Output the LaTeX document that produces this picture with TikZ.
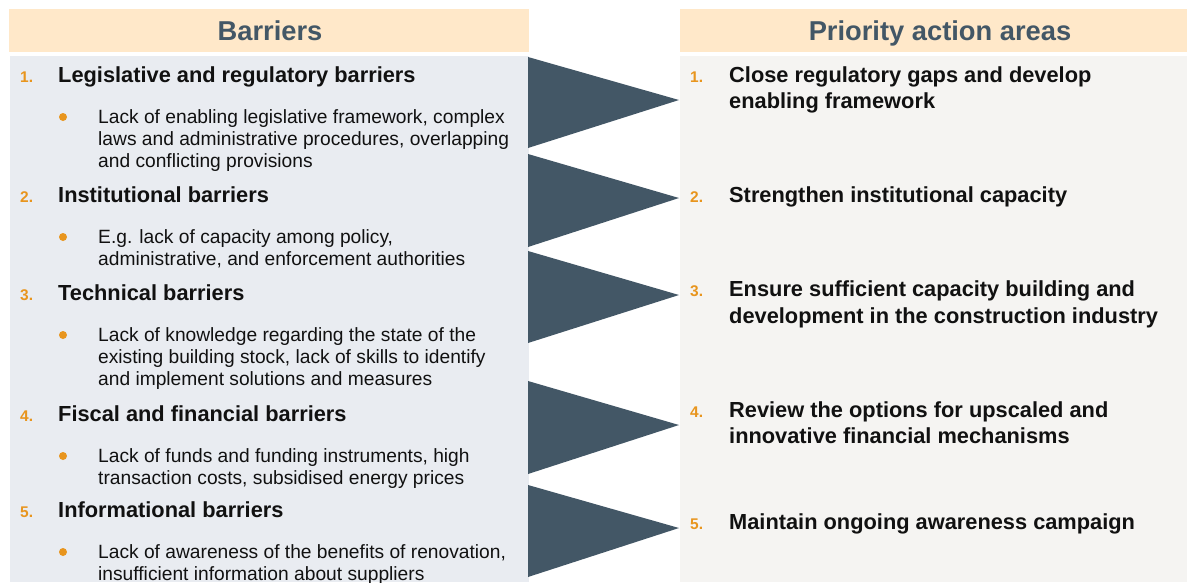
\documentclass[tikz,border=0pt]{standalone}
\usepackage{fontspec}
\setmainfont{Liberation Sans}
\definecolor{hdrfill}{RGB}{255,232,201}
\definecolor{lbody}{RGB}{233,236,241}
\definecolor{rbody}{RGB}{245,244,242}
\definecolor{slate}{RGB}{67,87,102}
\definecolor{orng}{RGB}{232,149,30}
\definecolor{txt}{RGB}{17,17,17}
\begin{document}
\begin{tikzpicture}[x=1pt,y=-1pt,
  hd/.style={font=\fontsize{21.8}{26}\selectfont\bfseries, text=txt, inner sep=0pt, anchor=base west},
  bt/.style={font=\fontsize{19.2}{22}\selectfont, text=txt, inner sep=0pt, anchor=base west},
  num/.style={font=\fontsize{15.5}{18}\selectfont\bfseries, text=orng, inner sep=0pt, anchor=base west},
  ttl/.style={font=\fontsize{27.3}{32}\selectfont\bfseries, text=slate, inner sep=0pt, anchor=base},
  tri/.style={fill=slate, draw=none},
  dot/.style={circle, fill=orng, inner sep=0pt, minimum size=8pt}]
\useasboundingbox (0,0) rectangle (1187,582);
\fill[white] (0,0) rectangle (1187,582);
% panels
\fill[hdrfill] (9,9) rectangle (529,52);
\fill[hdrfill] (680,9) rectangle (1187,52);
\fill[lbody] (10,56) rectangle (529,582);
\fill[rbody] (680,56) rectangle (1187,582);
\node[ttl] (tl) at (270,40) {Barriers};
\node[ttl] (tr) at (940,40) {Priority action areas};
% triangles
\fill[tri] (528,57) -- (679,100) -- (528,148) -- cycle;
\fill[tri] (528,154) -- (679,198) -- (528,247) -- cycle;
\fill[tri] (528,251) -- (679,295) -- (528,343) -- cycle;
\fill[tri] (528,381) -- (679,425) -- (528,474) -- cycle;
\fill[tri] (528,485) -- (679,528) -- (528,577) -- cycle;
% left column
\node[num] (ln1) at (20,82) {1.};
\node[hd] (lh1) at (58,82) {Legislative and regulatory barriers};
\node[dot] (ld1) at (63,117) {};
\node[bt] (lb1a) at (98,123) {Lack of enabling legislative framework, complex};
\node[bt] (lb1b) at (98,145) {laws and administrative procedures, overlapping};
\node[bt] (lb1c) at (98,167) {and conflicting provisions};
\node[num] (ln2) at (20,202) {2.};
\node[hd] (lh2) at (58,202) {Institutional barriers};
\node[dot] (ld2) at (63,237) {};
\node[bt] (lb2a) at (98,243) {E.g. lack of capacity among policy,};
\node[bt] (lb2b) at (98,265) {administrative, and enforcement authorities};
\node[num] (ln3) at (20,300) {3.};
\node[hd] (lh3) at (58,300) {Technical barriers};
\node[dot] (ld3) at (63,335) {};
\node[bt] (lb3a) at (98,341) {Lack of knowledge regarding the state of the};
\node[bt] (lb3b) at (98,363) {existing building stock, lack of skills to identify};
\node[bt] (lb3c) at (98,385) {and implement solutions and measures};
\node[num] (ln4) at (20,421) {4.};
\node[hd] (lh4) at (58,421) {Fiscal and financial barriers};
\node[dot] (ld4) at (63,456) {};
\node[bt] (lb4a) at (98,462) {Lack of funds and funding instruments, high};
\node[bt] (lb4b) at (98,484) {transaction costs, subsidised energy prices};
\node[num] (ln5) at (20,517) {5.};
\node[hd] (lh5) at (58,517) {Informational barriers};
\node[dot] (ld5) at (63,552) {};
\node[bt] (lb5a) at (98,558) {Lack of awareness of the benefits of renovation,};
\node[bt] (lb5b) at (98,580) {insufficient information about suppliers};
% right column
\node[num] (rn1) at (690,82) {1.};
\node[hd] (rh1a) at (729,82) {Close regulatory gaps and develop};
\node[hd] (rh1b) at (729,108) {enabling framework};
\node[num] (rn2) at (690,202) {2.};
\node[hd] (rh2) at (729,202) {Strengthen institutional capacity};
\node[num] (rn3) at (690,296) {3.};
\node[hd] (rh3a) at (729,296) {Ensure sufficient capacity building and};
\node[hd] (rh3b) at (729,323) {development in the construction industry};
\node[num] (rn4) at (690,417) {4.};
\node[hd] (rh4a) at (729,417) {Review the options for upscaled and};
\node[hd] (rh4b) at (729,443) {innovative financial mechanisms};
\node[num] (rn5) at (690,529) {5.};
\node[hd] (rh5) at (729,529) {Maintain ongoing awareness campaign};
\end{tikzpicture}
\end{document}
